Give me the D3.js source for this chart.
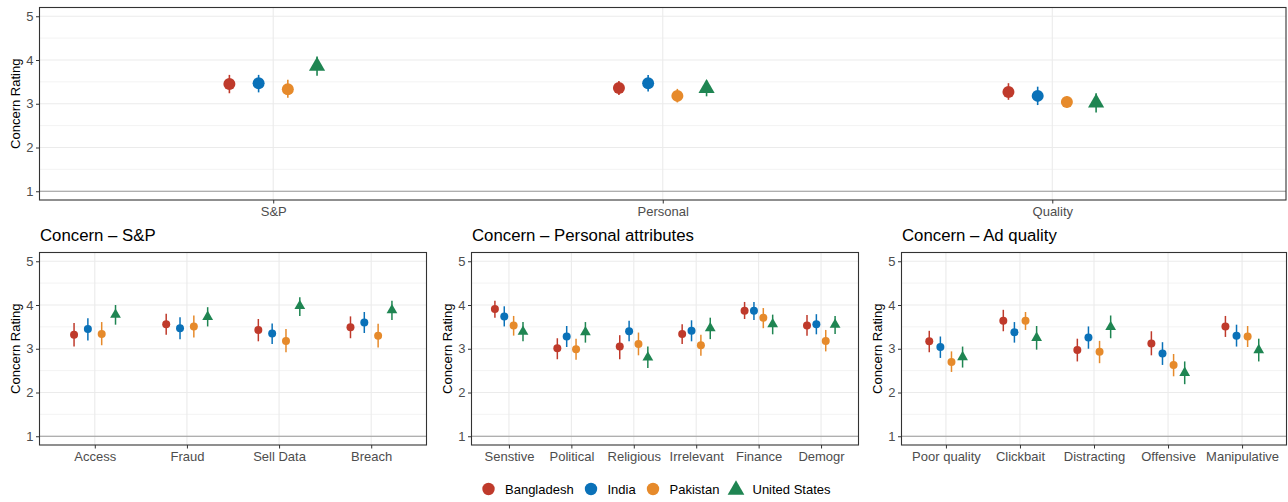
<!DOCTYPE html>
<html>
<head>
<meta charset="utf-8">
<script src="https://cdn.jsdelivr.net/npm/d3@7/dist/d3.min.js"></script>
<style>
  html, body { margin: 0; padding: 0; background: #fff; }
  svg { display: block; font-family: "Liberation Sans", Arial, Helvetica, sans-serif; }
</style>
</head>
<body>
<svg id="chart" width="1288" height="502"></svg>
<script>
// Countries and their colours
const countries = ["Bangladesh", "India", "Pakistan", "United States"];
const countryColors = ["#BF3A2B", "#0A71B8", "#E68A2B", "#1F8552"];
const countryShapes = ["circle", "circle", "circle", "triangle"];

// Overview panel: mean concern per category, rows = category, cols = country
const overviewCats = ["S&P", "Personal", "Quality"];
const overviewMean = [[3.45, 3.47, 3.33, 3.86], [3.36, 3.47, 3.18, 3.35], [3.27, 3.18, 3.04, 3.02]];
const overviewLow  = [[3.24, 3.26, 3.14, 3.64], [3.20, 3.28, 3.03, 3.17], [3.09, 2.97, 2.91, 2.80]];
const overviewHigh = [[3.66, 3.66, 3.55, 4.08], [3.52, 3.66, 3.34, 3.53], [3.47, 3.39, 3.17, 3.24]];

// Security & privacy items
const spCats = ["Access", "Fraud", "Sell Data", "Breach"];
const spMean = [[3.32, 3.45, 3.34, 3.78], [3.56, 3.47, 3.51, 3.73], [3.43, 3.35, 3.18, 3.98], [3.49, 3.60, 3.30, 3.88]];
const spLow  = [[3.05, 3.19, 3.08, 3.55], [3.32, 3.22, 3.26, 3.51], [3.17, 3.11, 2.92, 3.75], [3.24, 3.36, 3.03, 3.66]];
const spHigh = [[3.59, 3.70, 3.61, 4.00], [3.80, 3.72, 3.76, 3.95], [3.68, 3.58, 3.45, 4.18], [3.74, 3.84, 3.57, 4.10]];

// Personal attribute items
const paCats = ["Senstive", "Political", "Religious", "Irrelevant", "Finance", "Demogr"];
const paMean = [[3.91, 3.74, 3.53, 3.39], [3.01, 3.28, 2.99, 3.38], [3.05, 3.40, 3.11, 2.80],
                [3.34, 3.41, 3.08, 3.47], [3.87, 3.87, 3.71, 3.56], [3.53, 3.56, 3.18, 3.55]];
const paLow  = [[3.71, 3.51, 3.30, 3.17], [2.76, 3.04, 2.75, 3.14], [2.76, 3.17, 2.85, 2.56],
                [3.11, 3.17, 2.84, 3.22], [3.68, 3.66, 3.47, 3.33], [3.30, 3.33, 2.94, 3.34]];
const paHigh = [[4.10, 3.97, 3.75, 3.61], [3.24, 3.52, 3.23, 3.61], [3.31, 3.64, 3.37, 3.05],
                [3.56, 3.65, 3.32, 3.71], [4.07, 4.07, 3.93, 3.78], [3.77, 3.79, 3.43, 3.75]];

// Ad quality items
const aqCats = ["Poor quality", "Clickbait", "Distracting", "Offensive", "Manipulative"];
const aqMean = [[3.17, 3.04, 2.70, 2.81], [3.64, 3.38, 3.64, 3.25], [2.97, 3.26, 2.93, 3.50],
                [3.12, 2.89, 2.63, 2.45], [3.51, 3.30, 3.28, 2.97]];
const aqLow  = [[2.92, 2.79, 2.47, 2.57], [3.40, 3.14, 3.43, 2.98], [2.71, 3.00, 2.67, 3.24],
                [2.85, 2.63, 2.37, 2.19], [3.27, 3.05, 3.04, 2.71]];
const aqHigh = [[3.41, 3.28, 2.94, 3.05], [3.89, 3.61, 3.84, 3.52], [3.23, 3.51, 3.18, 3.76],
                [3.40, 3.15, 2.88, 2.71], [3.75, 3.55, 3.52, 3.23]];

const yTicks = [1, 2, 3, 4, 5];
const yMinor = [1.5, 2.5, 3.5, 4.5];

const svg = d3.select("#chart");
const FONT = 13;

// Marker path: circle or an R-style filled triangle sized from the circle radius
function markerPath(shape, r) {
  if (shape === "circle") {
    return d3.symbol().type(d3.symbolCircle).size(Math.PI * r * r)();
  }
  const top = 1.555 * r, half = 1.347 * r, bot = 0.7775 * r;
  return `M0,${-top}L${half},${bot}L${-half},${bot}Z`;
}

function drawPanel(opts) {
  const { x0, x1, y0, y1, cats, mean, low, high, dodge, r, title, ebWidth } = opts;
  const g = svg.append("g");
  const n = cats.length;
  const x = d3.scaleLinear().domain([0.4, n + 0.6]).range([x0, x1]);
  const y = d3.scaleLinear().domain([0.8, 5.2]).range([y1, y0]);

  // grid
  g.selectAll(".ymin").data(yMinor).join("line")
    .attr("x1", x0).attr("x2", x1)
    .attr("y1", d => y(d)).attr("y2", d => y(d))
    .attr("stroke", "#EBEBEB").attr("stroke-width", 0.6);
  g.selectAll(".ymaj").data(yTicks).join("line")
    .attr("x1", x0).attr("x2", x1)
    .attr("y1", d => y(d)).attr("y2", d => y(d))
    .attr("stroke", "#EBEBEB").attr("stroke-width", 1.1);
  g.selectAll(".xmaj").data(cats).join("line")
    .attr("x1", (d, i) => x(i + 1)).attr("x2", (d, i) => x(i + 1))
    .attr("y1", y0).attr("y2", y1)
    .attr("stroke", "#EBEBEB").attr("stroke-width", 1.1);

  // reference line at the scale minimum
  g.append("line")
    .attr("x1", x0).attr("x2", x1)
    .attr("y1", y(1)).attr("y2", y(1))
    .attr("stroke", "#999999").attr("stroke-width", 1);

  // axes
  const yAxis = d3.axisLeft(y).tickValues(yTicks).tickSize(3.5).tickPadding(2.5).tickFormat(d3.format("d"));
  const ya = g.append("g").attr("transform", `translate(${x0},0)`).call(yAxis);
  const xAxis = d3.axisBottom(x).tickValues(d3.range(1, n + 1)).tickSize(3.5).tickPadding(3)
    .tickFormat(d => cats[d - 1]);
  const xa = g.append("g").attr("transform", `translate(0,${y1})`).call(xAxis);
  [ya, xa].forEach(a => {
    a.select(".domain").remove();
    a.selectAll(".tick line").attr("stroke", "#333333").attr("stroke-width", 1);
    a.selectAll(".tick text").attr("fill", "#4D4D4D").style("font-size", FONT + "px")
      .style("font-family", "'Liberation Sans', Arial, sans-serif");
  });

  // y title
  g.append("text")
    .attr("transform", `translate(${x0 - 20},${(y0 + y1) / 2}) rotate(-90)`)
    .attr("text-anchor", "middle")
    .style("font-size", FONT + "px").attr("fill", "#000")
    .text("Concern Rating");

  if (title) {
    g.append("text").attr("x", x0 + 0.5).attr("y", y0 - 12)
      .style("font-size", "16.8px").attr("fill", "#000").text(title);
  }

  // points + intervals
  const step = dodge / countries.length;
  const rows = [];
  cats.forEach((c, i) => countries.forEach((k, j) => rows.push({
    i, j, m: mean[i][j], lo: low[i][j], hi: high[i][j],
    cx: x(i + 1 + (j - (countries.length - 1) / 2) * step)
  })));

  g.selectAll(".eb").data(rows).join("line")
    .attr("x1", d => d.cx).attr("x2", d => d.cx)
    .attr("y1", d => y(d.lo)).attr("y2", d => y(d.hi))
    .attr("stroke", d => countryColors[d.j]).attr("stroke-width", ebWidth);
  g.selectAll(".pt").data(rows).join("path")
    .attr("transform", d => `translate(${d.cx},${y(d.m)})`)
    .attr("d", d => markerPath(countryShapes[d.j], r))
    .attr("fill", d => countryColors[d.j]);

  // border
  g.append("rect")
    .attr("x", x0).attr("y", y0).attr("width", x1 - x0).attr("height", y1 - y0)
    .attr("fill", "none").attr("stroke", "#333333").attr("stroke-width", 1.1);
}

drawPanel({ x0: 39.5, x1: 1286, y0: 7.5, y1: 200, cats: overviewCats, mean: overviewMean,
  low: overviewLow, high: overviewHigh, dodge: 0.3, r: 6, ebWidth: 1.6 });
drawPanel({ x0: 39.5, x1: 426.5, y0: 252.5, y1: 445, cats: spCats, mean: spMean,
  low: spLow, high: spHigh, dodge: 0.6, r: 4, ebWidth: 1.5, title: "Concern – S&P" });
drawPanel({ x0: 471.5, x1: 858.5, y0: 252.5, y1: 445, cats: paCats, mean: paMean,
  low: paLow, high: paHigh, dodge: 0.6, r: 4, ebWidth: 1.5, title: "Concern – Personal attributes" });
drawPanel({ x0: 901.5, x1: 1286.5, y0: 252.5, y1: 445, cats: aqCats, mean: aqMean,
  low: aqLow, high: aqHigh, dodge: 0.6, r: 4, ebWidth: 1.5, title: "Concern – Ad quality" });

// legend
const legend = svg.append("g").attr("transform", "translate(0,489)");
const legendX = [488.5, 591, 653, 736];
countries.forEach((k, j) => {
  legend.append("path")
    .attr("transform", `translate(${legendX[j]},${countryShapes[j] === "triangle" ? 1 : 0})`)
    .attr("d", markerPath(countryShapes[j], 6.2))
    .attr("fill", countryColors[j]);
  legend.append("text")
    .attr("x", legendX[j] + 16.5).attr("y", 4.5)
    .style("font-size", FONT + "px").attr("fill", "#000")
    .text(k);
});
</script>
</body>
</html>
